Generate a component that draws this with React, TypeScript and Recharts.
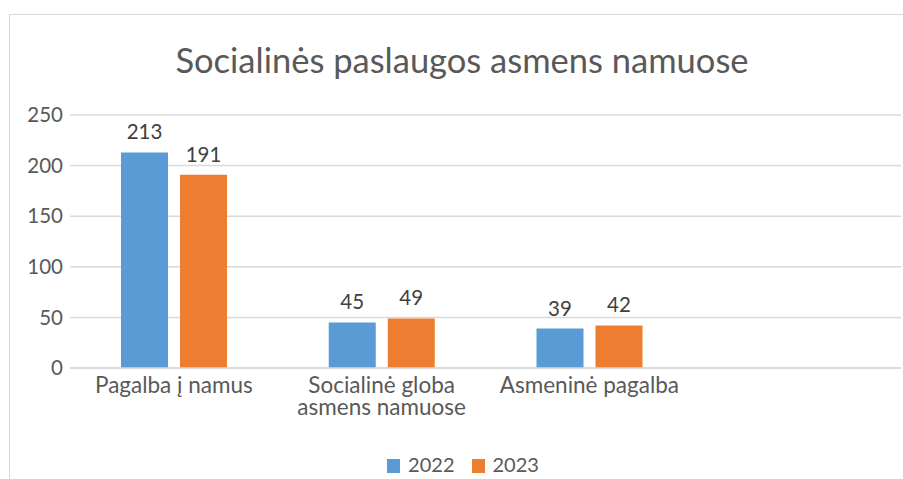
import { BarChart, Bar, XAxis, YAxis, CartesianGrid, Legend, LabelList } from 'recharts';

const categories = ['Pagalba į namus', 'Socialinė globa asmens namuose', 'Asmeninė pagalba', ''];
const values2022 = [213, 45, 39, null];
const values2023 = [191, 49, 42, null];
const yTicks = [0, 50, 100, 150, 200, 250];
const seriesNames = ['2022', '2023'];
const seriesColors = ['#5b9bd5', '#ed7d31'];

const data = categories.map((name, i) => ({
    name,
    '2022': values2022[i],
    '2023': values2023[i],
}));

const FONT = 'Lato, "Open Sans", sans-serif';
const TEXT = '#595959';

// wrap on words, max ~16 chars per line (like excel does for the long label)
const wrap = (s: string, max = 16) => {
    const lines: string[] = [];
    let cur = '';
    s.split(' ').forEach((w) => {
        const next = cur ? cur + ' ' + w : w;
        if (next.length > max && cur) {
            lines.push(cur);
            cur = w;
        } else {
            cur = next;
        }
    });
    if (cur) lines.push(cur);
    return lines;
};

const CategoryTick = (props: any) => {
    const { x, y, payload } = props;
    const lines = wrap(String(payload.value));
    return (
        <text x={x} y={y} textAnchor="middle" fill={TEXT} fontSize={22.5} fontFamily={FONT}>
            {lines.map((l, i) => (
                <tspan key={i} x={x} dy={i === 0 ? '0.71em' : 22}>
                    {l}
                </tspan>
            ))}
        </text>
    );
};

const LegendContent = () => (
    <div style={{ display: 'flex', justifyContent: 'center', fontFamily: FONT, fontSize: 20, lineHeight: '20px', color: TEXT }}>
        {seriesNames.map((s, i) => (
            <div key={s} style={{ display: 'flex', alignItems: 'flex-start', marginRight: i === 0 ? 17 : 0 }}>
                <span style={{ width: 13, height: 14, marginTop: 5, marginRight: 8, background: seriesColors[i], display: 'inline-block' }} />
                <span>{s}</span>
            </div>
        ))}
    </div>
);

const App = () => {
    return (
        <div style={{ position: 'fixed', left: 0, top: 0, width: 903, height: 479, overflow: 'hidden', background: '#fff' }}>
            <div style={{ position: 'absolute', left: 9, top: 14, width: 906, height: 520, border: '1px solid #d9d9d9', boxSizing: 'border-box' }} />
            <div style={{ position: 'absolute', left: 9, top: 39, width: 906, textAlign: 'center', fontFamily: FONT, fontSize: 34.5, color: TEXT, whiteSpace: 'nowrap' }}>
                Socialinės paslaugos asmens namuose
            </div>
            <div style={{ position: 'absolute', left: 0, top: 0 }}>
                <BarChart
                    width={903}
                    height={479}
                    data={data}
                    margin={{ top: 115, right: 2, bottom: 51, left: 10 }}
                    barGap={12}
                    barSize={47}
                >
                    <CartesianGrid vertical={false} stroke="#d9d9d9" strokeWidth={1.5} />
                    <XAxis
                        dataKey="name"
                        height={60}
                        axisLine={{ stroke: '#d9d9d9', strokeWidth: 1.5 }}
                        tickLine={false}
                        tickMargin={3}
                        interval={0}
                        tick={<CategoryTick />}
                    />
                    <YAxis
                        width={60}
                        domain={[0, 250]}
                        ticks={yTicks}
                        axisLine={false}
                        tickLine={false}
                        tickMargin={1}
                        tick={{ fill: TEXT, fontSize: 20.5, fontFamily: FONT }}
                    />
                    <Legend
                        verticalAlign="middle"
                        align="center"
                        content={<LegendContent />}
                        wrapperStyle={{ top: 454, left: 0, width: 926 }}
                    />
                    <Bar dataKey="2022" fill={seriesColors[0]} isAnimationActive={false}>
                        <LabelList dataKey="2022" position="top" offset={13} fill="#404040" fontSize={20.5} fontFamily={FONT} />
                    </Bar>
                    <Bar dataKey="2023" fill={seriesColors[1]} isAnimationActive={false}>
                        <LabelList dataKey="2023" position="top" offset={13} fill="#404040" fontSize={20.5} fontFamily={FONT} />
                    </Bar>
                </BarChart>
            </div>
        </div>
    );
};

export default App;
